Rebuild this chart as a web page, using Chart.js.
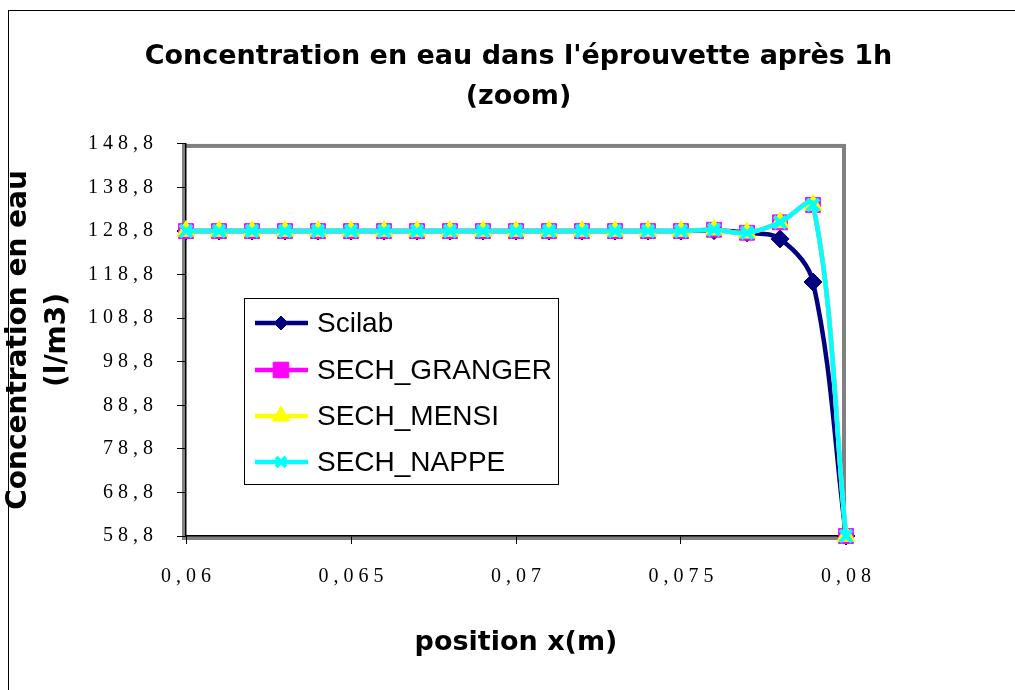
<!DOCTYPE html>
<html>
<head>
<meta charset="utf-8">
<script src="https://cdn.jsdelivr.net/npm/chart.js@4"></script>
<style>
  body { margin: 0; background: #fff; }
  canvas { display: block; }
</style>
</head>
<body>
<canvas id="chart" width="1015" height="690"></canvas>
<script>
// x positions (m)
var positions = [0.060, 0.061, 0.062, 0.063, 0.064, 0.065, 0.066, 0.067, 0.068, 0.069, 0.070,
                 0.071, 0.072, 0.073, 0.074, 0.075, 0.076, 0.077, 0.078, 0.079, 0.080];

// water concentration (l/m3)
var scilab   = [128.8, 128.8, 128.8, 128.8, 128.8, 128.8, 128.8, 128.8, 128.8, 128.8, 128.8,
                128.8, 128.8, 128.8, 128.8, 128.8, 128.9, 128.4, 127.0, 117.1, 58.8];
var granger  = [128.8, 128.8, 128.8, 128.8, 128.8, 128.8, 128.8, 128.8, 128.8, 128.8, 128.8,
                128.8, 128.8, 128.8, 128.8, 128.8, 129.1, 128.4, 130.8, 134.8, 58.8];
var mensi    = [128.8, 128.8, 128.8, 128.8, 128.8, 128.8, 128.8, 128.8, 128.8, 128.8, 128.8,
                128.8, 128.8, 128.8, 128.8, 128.8, 129.1, 128.4, 130.8, 134.8, 58.8];
var nappe    = [128.8, 128.8, 128.8, 128.8, 128.8, 128.8, 128.8, 128.8, 128.8, 128.8, 128.8,
                128.8, 128.8, 128.8, 128.8, 128.8, 129.1, 128.4, 130.8, 134.8, 58.8];

var xTickValues = [0.06, 0.065, 0.07, 0.075, 0.08];
var xTickLabels = ['0,06', '0,065', '0,07', '0,075', '0,08'];
var yTickValues = [58.8, 68.8, 78.8, 88.8, 98.8, 108.8, 118.8, 128.8, 138.8, 148.8];
var yTickLabels = ['58,8', '68,8', '78,8', '88,8', '98,8', '108,8', '118,8', '128,8', '138,8', '148,8'];

var seriesNames = ['Scilab', 'SECH_GRANGER', 'SECH_MENSI', 'SECH_NAPPE'];
var seriesColors = ['#000080', '#FF00FF', '#FFFF00', '#00FFFF'];
var seriesMarkers = ['rectRot', 'rect', 'triangle', 'crossRot'];
var markerRadius = [9, 10.5, 10.5, 8.5];
var legendRadius = [7, 11, 10, 7];

// Excel style tick text: characters spaced out
function spaced(s) {
    return s.split('').join(' ');
}

function makeDataset(i, values) {
    return {
        label: seriesNames[i],
        data: positions.map((x, k) => ({x: x, y: values[k]})),
        borderColor: seriesColors[i],
        backgroundColor: seriesColors[i],
        borderWidth: 4.5,
        tension: 0.35,
        pointStyle: seriesMarkers[i],
        pointRadius: markerRadius[i],
        pointBorderWidth: i == 3 ? 4 : 1,
        pointBorderColor: seriesColors[i],
        pointBackgroundColor: seriesColors[i],
        clip: false,
        order: 3 - i
    };
}

// gray plot frame + outer border, under the axes
var framePlugin = {
    id: 'frame',
    beforeDraw(chart) {
        var ctx = chart.ctx, a = chart.chartArea;
        ctx.save();
        ctx.strokeStyle = '#000';
        ctx.lineWidth = 1;
        ctx.strokeRect(8.5, 10.5, 1020, 700);
        ctx.strokeStyle = '#808080';
        ctx.lineWidth = 4;
        ctx.strokeRect(a.left - 2, a.top + 2, a.right - a.left, a.bottom - a.top);
        ctx.restore();
    }
};

// boxed legend sitting inside the plot
var legendPlugin = {
    id: 'boxLegend',
    afterDraw(chart) {
        var ctx = chart.ctx;
        var bx = 244, by = 298, bw = 314, bh = 186;
        ctx.save();
        ctx.fillStyle = '#fff';
        ctx.fillRect(bx, by, bw, bh);
        ctx.strokeStyle = '#000';
        ctx.lineWidth = 1;
        ctx.strokeRect(bx + 0.5, by + 0.5, bw, bh);
        ctx.font = '28px "Liberation Sans", Arial, sans-serif';
        ctx.textBaseline = 'middle';
        var rows = [323, 370, 416, 462];
        for (var i = 0; i < seriesNames.length; i++) {
            var y = rows[i];
            ctx.strokeStyle = seriesColors[i];
            ctx.lineWidth = 4.5;
            ctx.beginPath();
            ctx.moveTo(255, y);
            ctx.lineTo(308, y);
            ctx.stroke();
            ctx.fillStyle = seriesColors[i];
            ctx.lineWidth = i == 3 ? 4 : 1;
            Chart.helpers.drawPoint(ctx, {pointStyle: seriesMarkers[i], radius: legendRadius[i], borderWidth: ctx.lineWidth}, 281, y);
            ctx.fillStyle = '#000';
            ctx.fillText(seriesNames[i], 317, y + 1);
        }
        ctx.restore();
    }
};

var axisTitleFont = {family: '"DejaVu Sans", sans-serif', size: 27, weight: 'bold', lineHeight: 1.45};
var yTitleFont = {family: '"DejaVu Sans", sans-serif', size: 28, weight: 'bold', lineHeight: 1.4};
var tickFont = {family: '"Liberation Serif", "Times New Roman", serif', size: 20};

new Chart(document.getElementById('chart'), {
    type: 'line',
    data: {
        datasets: [
            makeDataset(0, scilab),
            makeDataset(1, granger),
            makeDataset(2, mensi),
            makeDataset(3, nappe)
        ]
    },
    options: {
        responsive: false,
        animation: false,
        layout: {padding: {left: 22, right: 0, top: 0, bottom: 0}},
        plugins: {
            legend: {display: false},
            tooltip: {enabled: false},
            title: {
                display: true,
                text: ["Concentration en eau dans l'éprouvette après 1h", '(zoom)'],
                color: '#000',
                font: {family: '"DejaVu Sans", sans-serif', size: 27, weight: 'bold', lineHeight: 1.48},
                padding: {top: 37, bottom: 27}
            }
        },
        scales: {
            x: {
                type: 'linear',
                min: 0.06,
                max: 0.08,
                afterBuildTicks: s => { s.ticks = xTickValues.map(v => ({value: v})); },
                afterFit: s => { s.height = 154; },
                ticks: {
                    color: '#000',
                    font: tickFont,
                    padding: 21,
                    maxRotation: 0,
                    callback: (v, i) => spaced(xTickLabels[i])
                },
                grid: {drawOnChartArea: false, color: '#000', tickLength: 8, tickWidth: 1},
                border: {color: '#000', width: 1.5},
                title: {
                    display: true,
                    text: 'position x(m)',
                    color: '#000',
                    font: axisTitleFont,
                    padding: {top: 0, bottom: 27}
                }
            },
            y: {
                type: 'linear',
                min: 58.8,
                max: 148.8,
                afterBuildTicks: s => { s.ticks = yTickValues.map(v => ({value: v})); },
                afterFit: s => { s.width = 164; },
                ticks: {
                    color: '#000',
                    font: tickFont,
                    padding: 24,
                    callback: (v, i) => spaced(yTickLabels[i])
                },
                grid: {drawOnChartArea: false, color: '#000', tickLength: 9, tickWidth: 1},
                border: {color: '#000', width: 1.5},
                title: {
                    display: true,
                    text: ['Concentration en eau', '(l/m3)'],
                    color: '#000',
                    font: yTitleFont,
                    padding: {top: -23, bottom: 0}
                }
            },
            // empty right-hand box, keeps the plot clear of the right side
            yRight: {
                type: 'linear',
                position: 'right',
                afterFit: s => { s.width = 169; },
                ticks: {display: false},
                grid: {display: false},
                border: {display: false}
            }
        }
    },
    plugins: [framePlugin, legendPlugin]
});
</script>
</body>
</html>
